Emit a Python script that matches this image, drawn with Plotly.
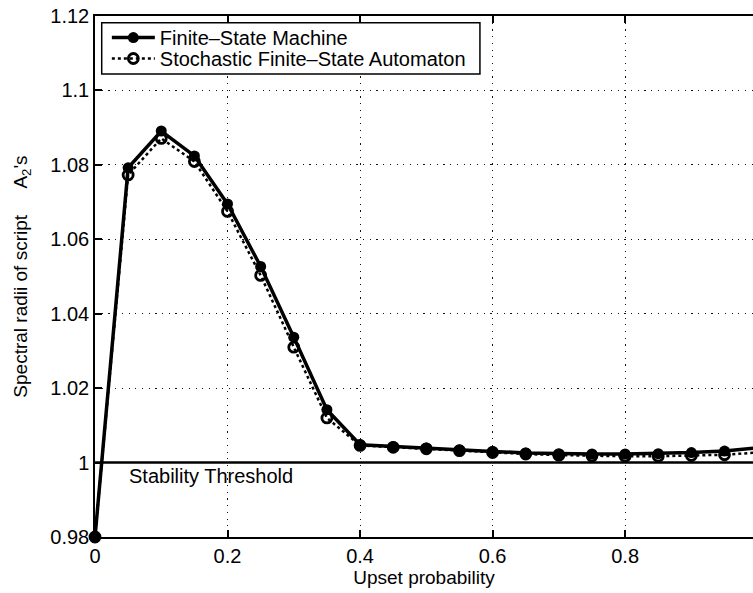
import plotly.graph_objects as go

# Upset probability sweep
upset_prob = [0.0, 0.05, 0.10, 0.15, 0.20, 0.25, 0.30, 0.35, 0.40, 0.45, 0.50,
              0.55, 0.60, 0.65, 0.70, 0.75, 0.80, 0.85, 0.90, 0.95, 1.00]

# Spectral radii for each model
fsm_radius = [0.980, 1.0792, 1.0891, 1.0824, 1.0695, 1.0527, 1.0337, 1.0142, 1.0048, 1.0043,
              1.0039, 1.0034, 1.0030, 1.0026, 1.0024, 1.0023, 1.0023, 1.0024, 1.0027, 1.0031, 1.0040]
sfsa_radius = [0.980, 1.0773, 1.0871, 1.0809, 1.0675, 1.0503, 1.0310, 1.0120, 1.0046, 1.0041,
               1.0037, 1.0032, 1.0027, 1.0023, 1.0020, 1.0018, 1.0017, 1.0017, 1.0019, 1.0021, 1.0027]

# Stability threshold
threshold_x = [0.0, 1.0]
threshold_y = [1.0, 1.0]

x_ticks = [0, 0.2, 0.4, 0.6, 0.8, 1.0]
x_tick_text = ["0", "0.2", "0.4", "0.6", "0.8", "1"]
y_ticks = [0.98, 1.00, 1.02, 1.04, 1.06, 1.08, 1.10, 1.12]
y_tick_text = ["0.98", "1", "1.02", "1.04", "1.06", "1.08", "1.1", "1.12"]

FONT = "Liberation Sans, Arial, Helvetica, sans-serif"

fig = go.Figure()

fig.add_trace(go.Scatter(
    x=threshold_x, y=threshold_y, mode="lines",
    line=dict(color="black", width=2.5), showlegend=False, hoverinfo="skip",
))

fig.add_trace(go.Scatter(
    x=upset_prob, y=fsm_radius, mode="lines+markers",
    name="Finite\u2013State Machine", legend="legend",
    line=dict(color="black", width=3.5),
    marker=dict(symbol="circle", size=11, color="black"),
    cliponaxis=False,
))

fig.add_trace(go.Scatter(
    x=upset_prob, y=sfsa_radius, mode="lines+markers",
    name="Stochastic Finite\u2013State Automaton", legend="legend2",
    line=dict(color="black", width=2.5, dash="dot"),
    marker=dict(symbol="circle-open", size=10, color="black", line=dict(width=2.8, color="black")),
    cliponaxis=False,
))

fig.add_annotation(
    x=0.048, y=0.9998, xref="x", yref="y", text="Stability Threshold",
    showarrow=False, xanchor="left", yanchor="top",
    font=dict(family=FONT, size=20, color="black"),
)

# Framed box behind the two legend rows
fig.add_shape(
    type="rect", xref="paper", yref="paper",
    x0=0.0102, x1=0.585, y0=0.8887, y1=0.9871,
    line=dict(color="black", width=1.5), fillcolor="white", layer="above",
)

axis_common = dict(
    showgrid=True, gridcolor="#111", gridwidth=1.2, griddash="1.2px,5.5px",
    zeroline=False, showline=True, linecolor="black", linewidth=1.5,
    ticks="inside", ticklen=7, tickcolor="black", tickwidth=1.5,
    tickfont=dict(family=FONT, size=20, color="black"),
)

fig.update_xaxes(
    **axis_common, range=[0, 0.993], mirror="ticks",
    tickvals=x_ticks, ticktext=x_tick_text,
    title=dict(text="Upset probability", font=dict(family=FONT, size=19, color="black"), standoff=0),
)
fig.update_yaxes(
    **axis_common, range=[0.98, 1.12], mirror=False,
    tickvals=y_ticks, ticktext=y_tick_text,
    title=dict(text="Spectral radii of script\u00a0\u00a0\u00a0\u00a0\u00a0A<sub>2</sub>'s",
               font=dict(family=FONT, size=19, color="black"), standoff=18),
)

legend_style = dict(
    xanchor="left", yanchor="middle",
    bgcolor="rgba(0,0,0,0)", borderwidth=0,
    font=dict(family=FONT, size=20, color="black"),
    itemwidth=43,
)

fig.update_layout(
    width=753, height=593,
    margin=dict(l=95, r=0, t=16, b=56, autoexpand=False),
    paper_bgcolor="white", plot_bgcolor="white",
    font=dict(family=FONT, size=20, color="black"),
    legend=dict(x=0.018, y=0.9587, **legend_style),
    legend2=dict(x=0.018, y=0.9184, **legend_style),
    showlegend=True,
)

fig.write_html("out.html")
